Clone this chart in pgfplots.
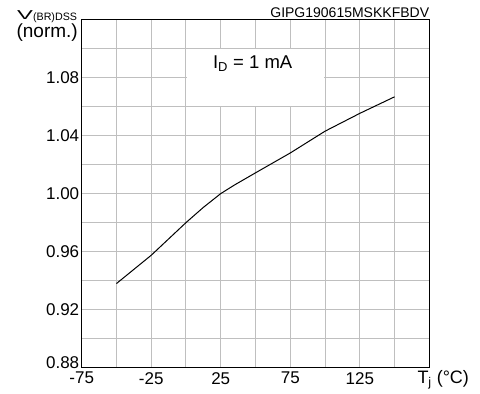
\documentclass[border=0pt]{standalone}
\usepackage{pgfplots}
\pgfplotsset{compat=1.18}
\usepackage{fontspec}
\setmainfont{Liberation Sans}

\pgfplotstableread{
T     V
-50   0.938
-25   0.9575
0     0.980
12.5  0.9905
25    1.000
35    1.006
50    1.0143
75    1.028
100   1.0430
125   1.0553
150   1.0667
}\bvdss

\begin{document}
\begin{tikzpicture}[x=1pt,y=1pt]
\useasboundingbox (0,0) rectangle (480,394);
\begin{axis}[
  at={(81.7pt,26.3pt)}, anchor=south west,
  scale only axis, width=347.6pt, height=348.2pt,
  xmin=-75, xmax=175, ymin=0.88, ymax=1.12,
  xtick={-75,-25,25,75,125},
  xticklabels={-75,-25,25,75,125},
  minor xtick={-50,0,50,100,150,175},
  ytick={0.88,0.92,0.96,1.00,1.04,1.08},
  yticklabels={\raisebox{5pt}[\height][\depth]{0.88},0.92,0.96,1.00,1.04,1.08},
  minor ytick={0.90,0.94,0.98,1.02,1.06,1.10,1.12},
  grid=both,
  major grid style={draw=black!25, line width=1pt},
  minor grid style={draw=black!25, line width=1pt},
  major tick length=0pt, minor tick length=0pt,
  axis line style={black, line width=0.9pt},
  ticklabel style={font=\fontsize{17}{20}\selectfont},
  xticklabel style={yshift=-1pt},
  yticklabel style={xshift=1pt},
  clip=false,
]
  % white patch behind the test-condition label
  \fill[white] (axis cs:0,1.06) ++(0.6pt,0.6pt) rectangle ([xshift=-0.6pt,yshift=-0.6pt]axis cs:100,1.10);
  \addplot[black, line width=1pt] table[x=T, y=V] {\bvdss};
  \node[font=\fontsize{18.5}{21}\selectfont, anchor=base] at (axis cs:48,1.0863)
    {I\textsubscript{D} = 1 mA};
  \node[font=\fontsize{14}{16}\selectfont, anchor=base east, inner sep=0pt]
    at ([yshift=2pt]rel axis cs:1,1) {GIPG190615MSKKFBDV};
  \node[font=\fontsize{18}{21}\selectfont, anchor=base west, inner sep=0pt]
    at ([xshift=-12pt,yshift=-15.5pt]rel axis cs:1,0) {T\textsubscript{j} (°C)};
\end{axis}
% y-axis quantity and its unit line
\node[anchor=base west, inner sep=0pt] at (17,374.7)
  {\fontsize{17}{20}\selectfont\scalebox{1.4}[0.76]{V}\raisebox{-1.4pt}{\fontsize{10.7}{12}\selectfont (BR)DSS}};
\node[anchor=base east, inner sep=0pt, font=\fontsize{19}{22}\selectfont] at (78,356.5) {(norm.)};
\end{tikzpicture}
\end{document}
